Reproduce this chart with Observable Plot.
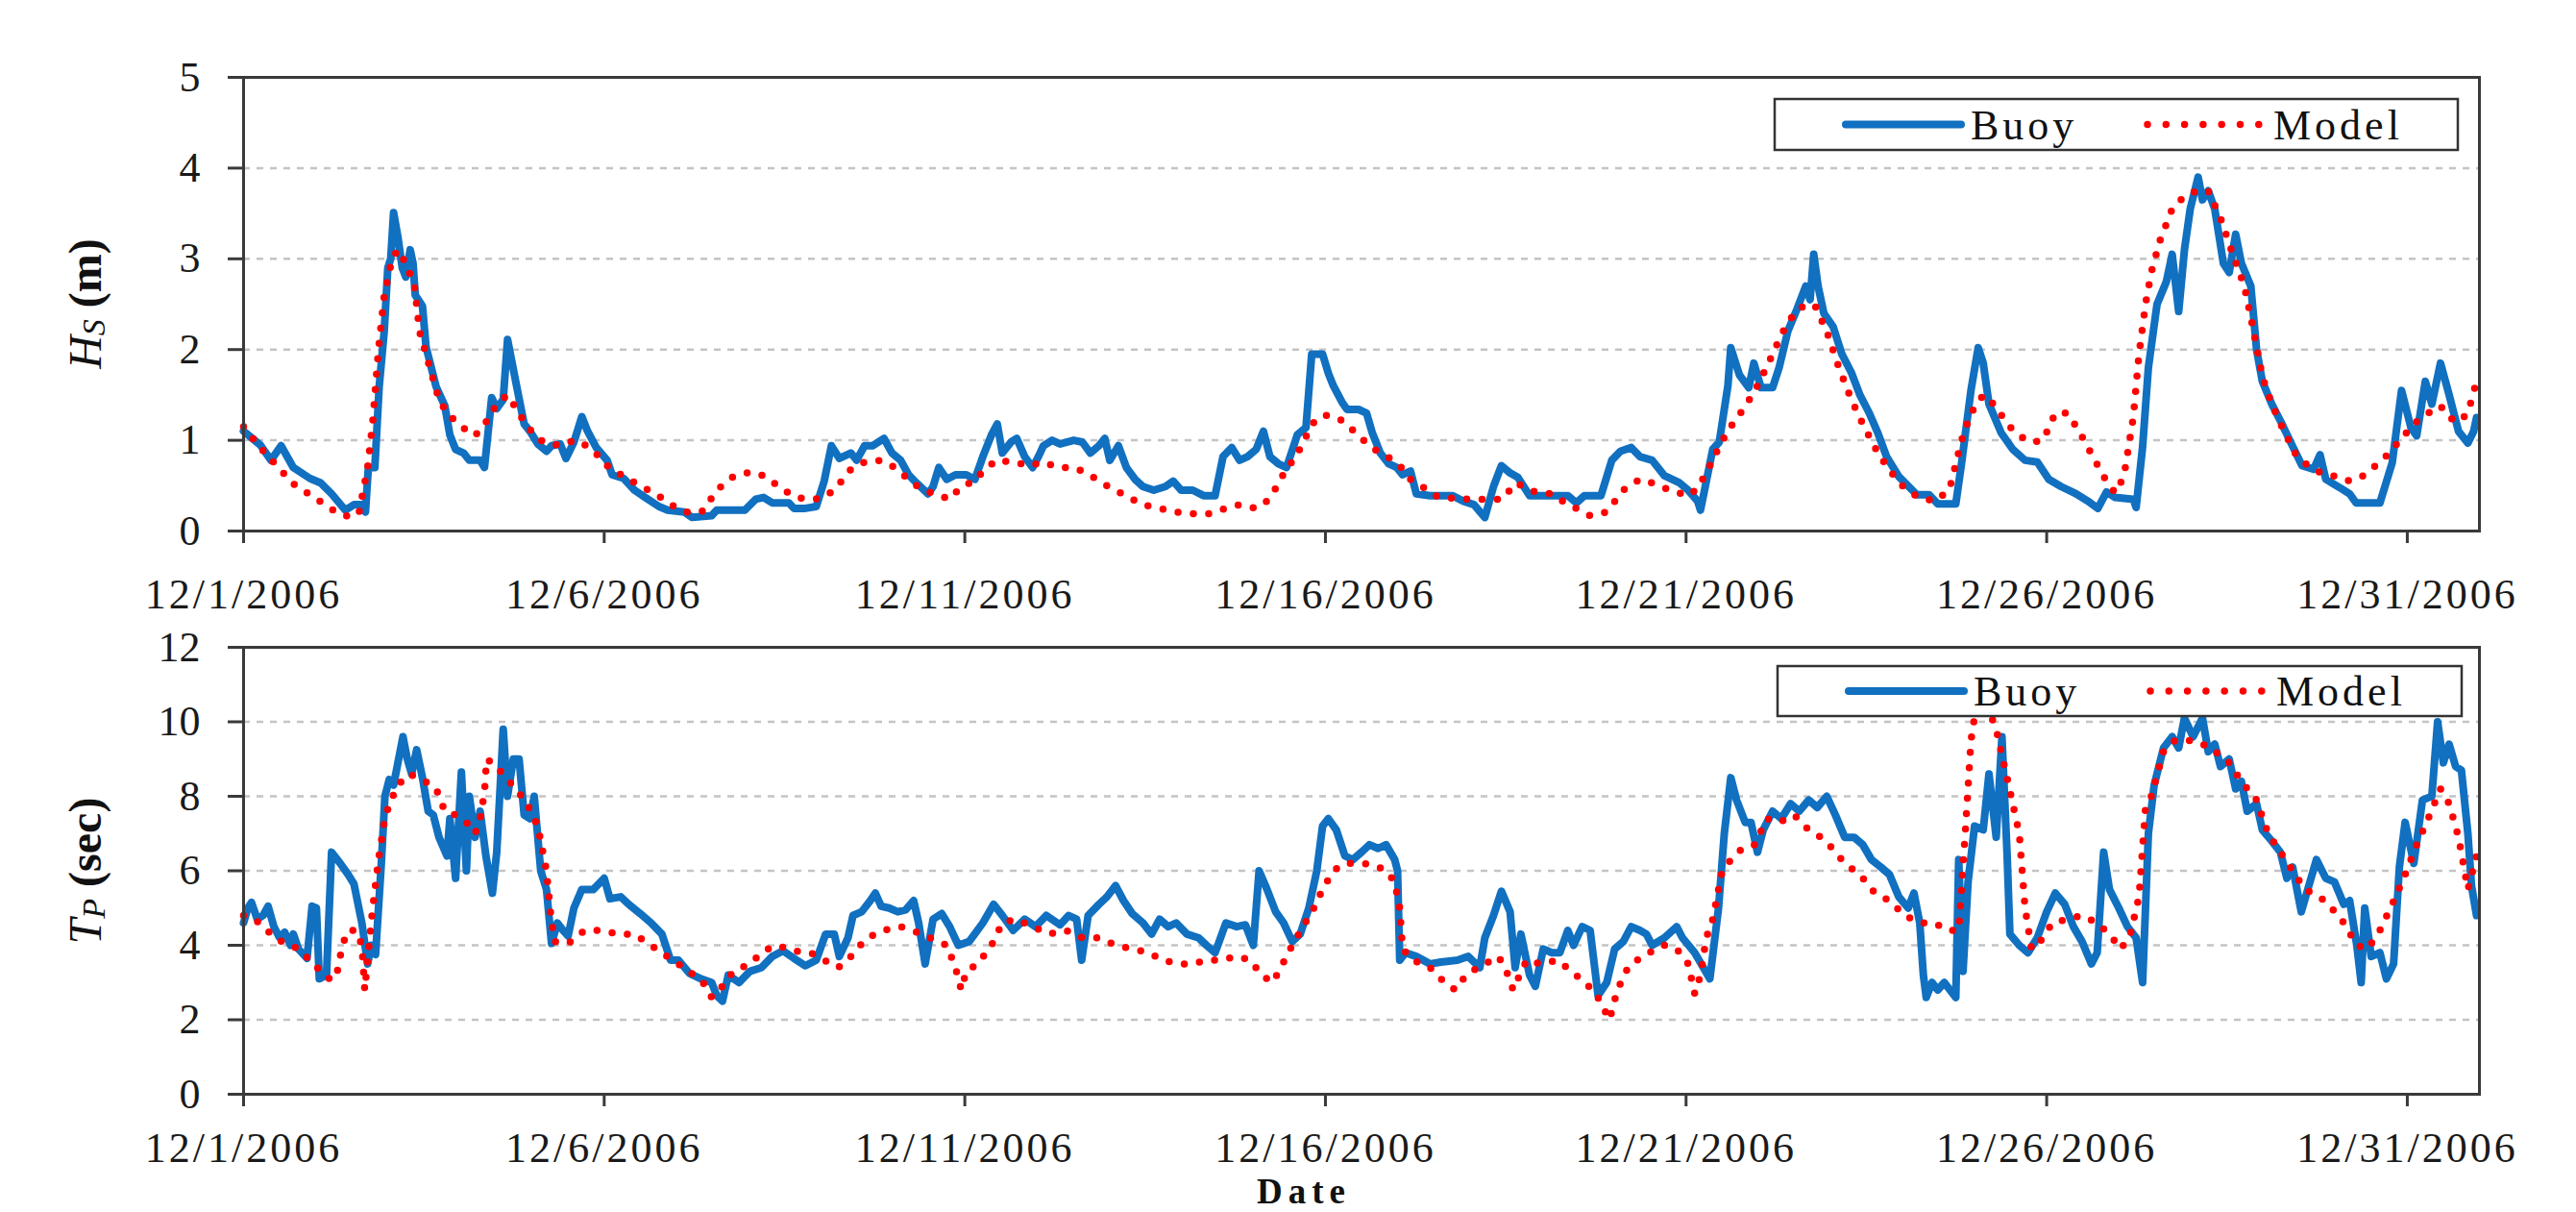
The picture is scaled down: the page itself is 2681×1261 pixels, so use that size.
<!DOCTYPE html>
<html><head><meta charset="utf-8">
<script src="https://cdn.jsdelivr.net/npm/d3@7"></script>
<script src="https://cdn.jsdelivr.net/npm/@observablehq/plot@0.6"></script>
<style>
html,body{margin:0;padding:0;background:#fff;}
#chart{width:2681px;height:1261px;overflow:hidden;position:relative;background:#fff;}
#chart svg{display:block;}
</style></head><body><div id="chart"></div>
<script>
// [day offset from 12/1/2006 00:00, value]
const buoyHs = [[0,1.10],[0.23,0.95],[0.38,0.78],[0.52,0.94],[0.69,0.70],[0.92,0.58],[1.07,0.53],[1.22,0.41],[1.41,0.23],[1.53,0.29],[1.64,0.29],[1.69,0.21],[1.73,0.70],[1.82,0.70],[1.88,1.59],[1.95,2.2],[2.00,2.9],[2.04,3.0],[2.08,3.51],[2.14,3.24],[2.20,2.90],[2.25,2.80],[2.31,3.10],[2.35,2.95],[2.38,2.60],[2.48,2.48],[2.53,2.03],[2.67,1.59],[2.79,1.38],[2.86,1.06],[2.94,0.90],[3.05,0.86],[3.13,0.78],[3.28,0.78],[3.34,0.70],[3.44,1.47],[3.51,1.35],[3.60,1.45],[3.66,2.11],[3.78,1.62],[3.89,1.18],[3.97,1.10],[4.08,0.96],[4.20,0.88],[4.27,0.94],[4.39,0.96],[4.47,0.80],[4.58,0.98],[4.69,1.26],[4.77,1.10],[4.89,0.92],[5.04,0.78],[5.11,0.62],[5.27,0.58],[5.42,0.45],[5.57,0.37],[5.76,0.27],[5.88,0.23],[6.11,0.21],[6.22,0.15],[6.49,0.17],[6.56,0.23],[6.95,0.23],[7.10,0.35],[7.21,0.37],[7.33,0.31],[7.56,0.31],[7.63,0.25],[7.79,0.25],[7.94,0.27],[8.05,0.55],[8.15,0.94],[8.26,0.80],[8.42,0.86],[8.50,0.78],[8.61,0.94],[8.72,0.94],[8.88,1.02],[8.99,0.86],[9.11,0.78],[9.22,0.62],[9.33,0.53],[9.49,0.41],[9.56,0.49],[9.64,0.70],[9.75,0.57],[9.87,0.62],[10.02,0.62],[10.14,0.57],[10.25,0.82],[10.37,1.06],[10.45,1.18],[10.52,0.86],[10.64,0.98],[10.72,1.02],[10.83,0.82],[10.94,0.70],[11.02,0.82],[11.09,0.94],[11.21,1.00],[11.32,0.96],[11.51,1.00],[11.63,0.98],[11.74,0.86],[11.86,0.94],[11.94,1.02],[12.01,0.78],[12.13,0.94],[12.24,0.70],[12.36,0.57],[12.47,0.49],[12.62,0.45],[12.78,0.49],[12.89,0.55],[13.00,0.45],[13.16,0.45],[13.31,0.39],[13.47,0.39],[13.58,0.82],[13.70,0.92],[13.81,0.78],[13.92,0.82],[14.04,0.90],[14.14,1.10],[14.23,0.82],[14.35,0.74],[14.46,0.70],[14.61,1.06],[14.73,1.14],[14.81,1.95],[14.88,1.95],[14.96,1.95],[15.04,1.74],[15.11,1.60],[15.23,1.42],[15.30,1.34],[15.46,1.34],[15.57,1.30],[15.65,1.08],[15.76,0.86],[15.88,0.74],[15.99,0.70],[16.07,0.62],[16.18,0.66],[16.26,0.41],[16.45,0.39],[16.76,0.39],[16.91,0.33],[17.06,0.29],[17.21,0.15],[17.33,0.49],[17.44,0.72],[17.56,0.64],[17.67,0.59],[17.83,0.39],[18.06,0.39],[18.36,0.39],[18.48,0.31],[18.59,0.39],[18.82,0.39],[18.97,0.78],[19.09,0.88],[19.24,0.92],[19.36,0.82],[19.53,0.78],[19.70,0.61],[19.91,0.53],[20.03,0.45],[20.16,0.33],[20.20,0.23],[20.37,0.90],[20.46,0.98],[20.58,1.60],[20.62,2.02],[20.74,1.72],[20.87,1.58],[20.94,1.85],[21.04,1.58],[21.20,1.58],[21.29,1.80],[21.41,2.2],[21.54,2.45],[21.66,2.70],[21.72,2.55],[21.77,3.05],[21.83,2.70],[21.91,2.40],[22.04,2.25],[22.16,1.95],[22.29,1.75],[22.41,1.50],[22.54,1.30],[22.66,1.08],[22.78,0.82],[22.95,0.60],[23.20,0.40],[23.37,0.40],[23.49,0.30],[23.74,0.30],[23.82,0.75],[23.95,1.55],[24.05,2.02],[24.12,1.85],[24.20,1.40],[24.37,1.08],[24.53,0.90],[24.70,0.78],[24.87,0.76],[25.03,0.57],[25.20,0.49],[25.41,0.41],[25.57,0.33],[25.71,0.25],[25.83,0.43],[25.95,0.37],[26.20,0.35],[26.24,0.26],[26.33,0.93],[26.41,1.80],[26.53,2.5],[26.66,2.75],[26.74,3.05],[26.83,2.42],[26.91,3.10],[26.99,3.55],[27.10,3.9],[27.16,3.65],[27.24,3.75],[27.33,3.55],[27.45,2.95],[27.53,2.85],[27.62,3.27],[27.70,2.95],[27.83,2.70],[27.91,2.0],[27.99,1.65],[28.12,1.40],[28.25,1.20],[28.37,1.00],[28.54,0.72],[28.70,0.68],[28.79,0.84],[28.87,0.57],[29.08,0.47],[29.20,0.41],[29.29,0.31],[29.62,0.31],[29.79,0.75],[29.92,1.55],[30.05,1.14],[30.13,1.05],[30.25,1.65],[30.34,1.40],[30.46,1.85],[30.58,1.50],[30.71,1.10],[30.84,0.97],[30.92,1.10],[30.96,1.25]];

const modelHs = [[0,1.15],[0.23,0.92],[0.46,0.72],[0.69,0.52],[0.92,0.40],[1.15,0.28],[1.30,0.20],[1.49,0.15],[1.60,0.20],[1.72,0.70],[1.79,1.2],[1.87,2.0],[1.95,2.6],[2.06,3.0],[2.14,3.1],[2.25,2.95],[2.37,2.7],[2.44,2.2],[2.60,1.75],[2.71,1.45],[2.82,1.3],[3.02,1.15],[3.21,1.05],[3.36,1.2],[3.51,1.4],[3.66,1.5],[3.78,1.35],[3.93,1.15],[4.12,1.0],[4.27,0.95],[4.43,0.95],[4.58,1.0],[4.73,0.95],[4.89,0.85],[5.04,0.72],[5.27,0.60],[5.50,0.50],[5.73,0.40],[5.95,0.28],[6.18,0.20],[6.37,0.22],[6.56,0.45],[6.79,0.60],[7.02,0.65],[7.25,0.60],[7.40,0.50],[7.63,0.38],[7.82,0.35],[8.02,0.36],[8.19,0.45],[8.42,0.68],[8.61,0.76],[8.84,0.78],[9.03,0.70],[9.22,0.57],[9.41,0.45],[9.60,0.41],[9.79,0.35],[9.95,0.49],[10.14,0.55],[10.25,0.66],[10.44,0.78],[10.67,0.76],[10.90,0.72],[11.09,0.76],[11.29,0.70],[11.52,0.70],[11.71,0.63],[11.90,0.53],[12.09,0.45],[12.28,0.37],[12.47,0.29],[12.70,0.25],[12.93,0.21],[13.16,0.19],[13.39,0.19],[13.62,0.25],[13.81,0.29],[14.04,0.25],[14.19,0.33],[14.31,0.47],[14.42,0.63],[14.61,0.85],[14.73,1.04],[14.84,1.20],[14.98,1.28],[15.19,1.24],[15.34,1.14],[15.53,1.00],[15.68,0.90],[15.88,0.81],[16.07,0.69],[16.18,0.57],[16.38,0.47],[16.57,0.37],[16.99,0.35],[17.45,0.35],[17.64,0.53],[17.91,0.43],[18.14,0.41],[18.29,0.33],[18.52,0.23],[18.67,0.17],[18.90,0.21],[19.13,0.45],[19.36,0.57],[19.53,0.53],[19.78,0.45],[20.03,0.39],[20.16,0.47],[20.33,0.72],[20.49,0.98],[20.66,1.20],[20.82,1.37],[20.99,1.60],[21.16,1.88],[21.33,2.18],[21.50,2.40],[21.66,2.50],[21.79,2.48],[21.95,2.2],[22.12,1.80],[22.29,1.45],[22.45,1.18],[22.62,0.92],[22.79,0.70],[23.00,0.50],[23.20,0.38],[23.45,0.33],[23.65,0.45],[23.82,1.00],[23.95,1.30],[24.12,1.50],[24.29,1.38],[24.45,1.18],[24.62,1.05],[24.79,0.98],[24.95,1.00],[25.12,1.30],[25.29,1.30],[25.45,1.10],[25.62,0.85],[25.79,0.60],[25.95,0.42],[26.07,0.60],[26.20,1.25],[26.28,1.95],[26.37,2.50],[26.45,2.85],[26.57,3.2],[26.74,3.55],[26.91,3.69],[27.08,3.75],[27.24,3.75],[27.41,3.45],[27.58,3.05],[27.74,2.7],[27.87,2.2],[27.99,1.70],[28.12,1.40],[28.29,1.10],[28.45,0.85],[28.62,0.72],[28.83,0.63],[29.03,0.60],[29.20,0.55],[29.37,0.60],[29.53,0.70],[29.74,0.85],[29.95,1.05],[30.12,1.20],[30.29,1.30],[30.46,1.38],[30.58,1.25],[30.71,1.20],[30.84,1.30],[30.96,1.65]];

const buoyTp = [[0,4.6],[0.06,5.0],[0.11,5.15],[0.19,4.7],[0.27,4.8],[0.34,5.05],[0.42,4.5],[0.50,4.2],[0.57,4.35],[0.65,4.0],[0.69,4.3],[0.76,3.9],[0.88,3.65],[0.95,5.05],[1.01,5.0],[1.05,3.1],[1.15,3.2],[1.22,6.5],[1.34,6.2],[1.45,5.9],[1.53,5.65],[1.64,4.6],[1.72,3.5],[1.77,4.0],[1.83,3.75],[1.91,6.2],[1.96,8.0],[2.02,8.45],[2.08,8.3],[2.14,8.9],[2.21,9.6],[2.27,9.0],[2.33,8.6],[2.40,9.25],[2.48,8.5],[2.56,7.6],[2.63,7.5],[2.71,6.9],[2.82,6.4],[2.86,7.4],[2.94,5.8],[3.02,8.65],[3.09,6.0],[3.13,8.0],[3.21,6.9],[3.28,7.6],[3.36,6.4],[3.45,5.4],[3.51,6.5],[3.60,9.8],[3.66,8.0],[3.74,9.0],[3.82,9.0],[3.89,7.5],[3.97,7.4],[4.03,8.0],[4.12,6.0],[4.20,5.5],[4.27,4.05],[4.35,4.6],[4.43,4.4],[4.50,4.25],[4.58,5.0],[4.69,5.5],[4.85,5.5],[5.00,5.8],[5.08,5.25],[5.23,5.3],[5.34,5.1],[5.50,4.85],[5.65,4.6],[5.80,4.3],[5.92,3.6],[6.03,3.6],[6.18,3.25],[6.34,3.1],[6.49,3.0],[6.56,2.65],[6.64,2.5],[6.72,3.2],[6.87,3.0],[7.02,3.3],[7.18,3.4],[7.33,3.7],[7.48,3.85],[7.63,3.65],[7.79,3.45],[7.94,3.6],[8.07,4.3],[8.19,4.3],[8.26,3.7],[8.38,4.2],[8.45,4.8],[8.57,4.9],[8.69,5.2],[8.76,5.4],[8.84,5.05],[8.95,5.0],[9.07,4.9],[9.18,4.95],[9.29,5.2],[9.36,4.6],[9.45,3.5],[9.56,4.7],[9.68,4.85],[9.79,4.5],[9.91,4.0],[10.06,4.1],[10.25,4.6],[10.40,5.1],[10.52,4.8],[10.67,4.4],[10.83,4.7],[10.98,4.5],[11.13,4.8],[11.32,4.55],[11.44,4.8],[11.55,4.7],[11.62,3.6],[11.71,4.8],[11.86,5.1],[11.97,5.3],[12.09,5.6],[12.20,5.2],[12.32,4.85],[12.47,4.6],[12.59,4.3],[12.70,4.7],[12.82,4.5],[12.93,4.6],[13.08,4.3],[13.24,4.2],[13.35,4.0],[13.47,3.8],[13.62,4.6],[13.77,4.5],[13.89,4.55],[14.00,4.0],[14.08,6.0],[14.19,5.5],[14.31,4.9],[14.42,4.6],[14.54,4.1],[14.65,4.3],[14.77,5.0],[14.88,6.0],[14.96,7.2],[15.04,7.4],[15.15,7.1],[15.27,6.4],[15.38,6.3],[15.50,6.5],[15.61,6.7],[15.73,6.6],[15.84,6.7],[15.96,6.3],[16.00,6.0],[16.03,3.6],[16.11,3.8],[16.26,3.7],[16.45,3.5],[16.60,3.55],[16.83,3.6],[16.98,3.7],[17.14,3.4],[17.21,4.2],[17.33,4.8],[17.44,5.45],[17.56,4.9],[17.63,3.4],[17.71,4.3],[17.83,3.2],[17.91,2.9],[18.02,3.9],[18.14,3.8],[18.25,3.8],[18.36,4.4],[18.44,4.0],[18.56,4.5],[18.67,4.4],[18.78,2.65],[18.90,3.0],[19.01,3.9],[19.13,4.1],[19.24,4.5],[19.36,4.4],[19.45,4.3],[19.53,4.0],[19.70,4.2],[19.87,4.5],[19.95,4.2],[20.12,3.8],[20.24,3.4],[20.33,3.1],[20.45,5.0],[20.53,7.0],[20.62,8.5],[20.70,7.9],[20.82,7.3],[20.90,7.3],[20.99,6.5],[21.07,7.1],[21.20,7.6],[21.32,7.4],[21.45,7.8],[21.57,7.6],[21.70,7.9],[21.82,7.7],[21.95,8.0],[22.07,7.5],[22.20,6.9],[22.33,6.9],[22.45,6.7],[22.57,6.3],[22.70,6.1],[22.82,5.9],[22.95,5.3],[23.08,5.0],[23.16,5.4],[23.24,4.6],[23.29,3.2],[23.33,2.6],[23.41,3.0],[23.49,2.8],[23.58,3.0],[23.66,2.8],[23.74,2.6],[23.78,6.3],[23.84,3.3],[23.91,5.7],[24.00,7.2],[24.12,7.1],[24.20,8.6],[24.30,6.9],[24.38,9.6],[24.45,6.5],[24.49,4.3],[24.62,4.0],[24.74,3.8],[24.87,4.2],[25.00,4.9],[25.12,5.4],[25.25,5.1],[25.37,4.5],[25.49,4.1],[25.62,3.5],[25.70,3.8],[25.79,6.5],[25.87,5.5],[26.00,5.0],[26.12,4.5],[26.24,4.2],[26.33,3.0],[26.41,7.0],[26.49,8.3],[26.62,9.3],[26.74,9.6],[26.83,9.3],[26.91,10.1],[27.03,9.6],[27.16,10.1],[27.24,9.2],[27.33,9.4],[27.41,8.8],[27.53,9.0],[27.62,8.2],[27.70,8.4],[27.78,7.6],[27.91,7.8],[27.99,7.1],[28.12,6.8],[28.24,6.5],[28.33,5.8],[28.41,6.1],[28.53,4.9],[28.62,5.5],[28.74,6.3],[28.87,5.8],[28.99,5.7],[29.12,5.1],[29.20,5.2],[29.30,4.0],[29.36,3.0],[29.41,5.0],[29.50,3.7],[29.62,3.8],[29.71,3.1],[29.81,3.5],[29.89,6.1],[29.97,7.3],[30.09,6.2],[30.21,7.9],[30.34,8.0],[30.42,10.0],[30.50,8.9],[30.58,9.4],[30.67,8.8],[30.75,8.7],[30.84,7.0],[30.89,5.6],[30.96,4.8]];

const modelTp = [[0,4.8],[0.23,4.6],[0.38,4.3],[0.53,4.1],[0.76,3.9],[0.92,3.6],[1.07,3.3],[1.22,3.05],[1.30,3.3],[1.37,4.0],[1.45,4.4],[1.56,4.4],[1.64,4.0],[1.68,2.8],[1.72,3.6],[1.79,5.0],[1.87,6.3],[1.95,7.3],[2.02,7.8],[2.14,8.3],[2.29,8.6],[2.48,8.45],[2.67,8.2],[2.79,7.6],[2.94,7.5],[3.09,7.3],[3.21,7.0],[3.28,7.4],[3.34,8.1],[3.37,9.0],[3.51,8.8],[3.63,8.5],[3.78,8.2],[3.93,7.8],[4.08,7.2],[4.20,6.0],[4.26,4.8],[4.31,4.1],[4.50,4.05],[4.73,4.4],[4.96,4.4],[5.19,4.3],[5.42,4.3],[5.61,4.05],[5.80,3.8],[5.95,3.6],[6.18,3.3],[6.37,3.0],[6.49,2.6],[6.64,2.9],[6.79,3.3],[7.02,3.5],[7.21,3.85],[7.40,4.0],[7.63,3.85],[7.86,3.8],[8.05,3.6],[8.24,3.4],[8.38,3.6],[8.50,3.9],[8.65,4.2],[8.88,4.4],[9.11,4.5],[9.34,4.35],[9.52,4.2],[9.75,4.0],[9.87,3.4],[9.95,2.8],[10.02,3.3],[10.18,3.5],[10.37,4.0],[10.52,4.6],[10.71,4.7],[10.94,4.5],[11.17,4.3],[11.40,4.4],[11.63,4.2],[11.86,4.2],[12.09,4.0],[12.32,3.9],[12.55,3.8],[12.74,3.6],[12.97,3.5],[13.16,3.5],[13.35,3.6],[13.54,3.6],[13.77,3.7],[13.96,3.6],[14.11,3.2],[14.27,3.0],[14.38,3.4],[14.54,4.0],[14.69,4.5],[14.84,5.0],[14.96,5.5],[15.11,6.0],[15.27,6.2],[15.50,6.2],[15.69,6.15],[15.84,6.0],[15.96,5.7],[16.03,5.0],[16.07,3.9],[16.22,3.6],[16.45,3.4],[16.60,3.1],[16.80,2.8],[16.95,3.2],[17.11,3.4],[17.21,3.5],[17.40,3.7],[17.56,3.1],[17.60,2.8],[17.67,3.1],[17.79,3.6],[17.99,3.5],[18.22,3.6],[18.41,3.3],[18.60,3.0],[18.75,2.7],[18.83,2.4],[18.94,2.0],[19.02,2.6],[19.13,3.2],[19.24,3.5],[19.49,3.8],[19.70,4.0],[19.87,3.9],[20.03,3.5],[20.12,2.7],[20.20,3.2],[20.28,4.2],[20.37,4.7],[20.49,5.9],[20.62,6.3],[20.78,6.6],[20.95,6.7],[21.12,7.4],[21.29,7.3],[21.50,7.5],[21.70,7.1],[21.87,6.9],[22.03,6.6],[22.20,6.2],[22.41,5.9],[22.62,5.4],[22.82,5.2],[23.03,4.8],[23.24,4.6],[23.45,4.6],[23.62,4.4],[23.78,4.4],[23.87,7.0],[23.95,9.5],[24.03,10.5],[24.16,10.5],[24.30,9.8],[24.45,8.5],[24.62,7.0],[24.70,5.0],[24.79,3.9],[24.91,4.1],[25.08,4.6],[25.29,4.7],[25.49,4.8],[25.70,4.6],[25.87,4.3],[26.03,3.9],[26.16,4.3],[26.28,5.3],[26.37,7.7],[26.45,8.0],[26.62,9.2],[26.78,9.5],[27.03,9.5],[27.28,9.3],[27.53,8.9],[27.70,8.4],[27.91,7.9],[28.07,7.0],[28.24,6.5],[28.41,6.0],[28.58,5.5],[28.79,5.3],[28.95,5.0],[29.12,4.6],[29.30,4.0],[29.45,3.9],[29.62,4.4],[29.79,5.1],[29.95,5.8],[30.13,6.7],[30.29,7.4],[30.46,8.2],[30.58,7.8],[30.71,6.9],[30.84,5.5],[30.96,6.4]];

const hsTicks = [0, 1, 2, 3, 4, 5];
const hsGrid = [1, 2, 3, 4];
const tpTicks = [0, 2, 4, 6, 8, 10, 12];
const tpGrid = [2, 4, 6, 8, 10];
const tickDays = [1, 6, 11, 16, 21, 26, 31];
const seriesNames = ["Buoy", "Model"];

const start = Date.UTC(2006, 11, 1);
const end = Date.UTC(2007, 0, 1);
const toRows = arr => arr.map(([d, v]) => ({date: new Date(start + d * 864e5), value: v}));
const dateTicks = tickDays.map(d => new Date(Date.UTC(2006, 11, d)));
const fmt = d => `${d.getUTCMonth() + 1}/${d.getUTCDate()}/${d.getUTCFullYear()}`;

const BLUE = "#1170c0", RED = "#ff0000", AXIS = "#3a3a3a";
const FONT = "'Liberation Serif', 'Times New Roman', serif";

function panel({buoy, model, yDomain, yTicks, grid, height, marginTop, marginBottom, xPad}) {
  return Plot.plot({
    width: 2681, height, marginLeft: 253, marginRight: 101, marginTop, marginBottom,
    style: {fontFamily: FONT, fontSize: "44px", color: "#1a1a1a", background: "white", overflow: "visible"},
    x: {type: "utc", domain: [new Date(start), new Date(end)]},
    y: {domain: yDomain},
    marks: [
      Plot.gridY(grid, {stroke: "#c4c4c4", strokeOpacity: 1, strokeWidth: 2.5, strokeDasharray: "7,7"}),
      Plot.line(toRows(buoy), {x: "date", y: "value", stroke: BLUE, strokeWidth: 8, strokeLinejoin: "round"}),
      Plot.line(toRows(model), {x: "date", y: "value", stroke: RED, strokeWidth: 7.5, strokeDasharray: "0 16", strokeLinecap: "round"}),
      Plot.frame({stroke: AXIS, strokeWidth: 3}),
      Plot.axisY(yTicks, {tickSize: 16, tickPadding: 29, label: null, stroke: AXIS, strokeWidth: 3, tickFormat: d => String(d)}),
      Plot.axisX(dateTicks, {tickSize: 13, tickPadding: xPad, label: null, stroke: AXIS, strokeWidth: 3, tickFormat: fmt})
    ]
  });
}

function legend(svg, bx0, by0, bx1, by1) {
  const cy = (by0 + by1) / 2;
  const g = d3.select(svg).append("g")
    .style("font-family", FONT).style("font-size", "44px").attr("fill", "#111").attr("text-anchor", "start");
  g.append("rect").attr("x", bx0).attr("y", by0).attr("width", bx1 - bx0).attr("height", by1 - by0)
    .attr("fill", "white").attr("stroke", "#333").attr("stroke-width", 2.5);
  g.append("line").attr("x1", bx0 + 74).attr("x2", bx0 + 194).attr("y1", cy).attr("y2", cy)
    .attr("stroke", BLUE).attr("stroke-width", 8).attr("stroke-linecap", "round");
  g.append("text").attr("x", bx0 + 204).attr("y", cy + 15).attr("text-anchor", "start")
    .style("letter-spacing", "4px").text(seriesNames[0]);
  g.append("line").attr("x1", bx0 + 388).attr("x2", bx0 + 504).attr("y1", cy).attr("y2", cy)
    .attr("stroke", RED).attr("stroke-width", 7.5).attr("stroke-linecap", "round").attr("stroke-dasharray", "0 19.3");
  g.append("text").attr("x", bx0 + 519).attr("y", cy + 15).attr("text-anchor", "start")
    .style("letter-spacing", "4px").text(seriesNames[1]);
}

function yTitle(svg, cy, main, sub, unit) {
  const t = d3.select(svg).append("text")
    .attr("transform", `translate(88,${cy}) rotate(-90)`)
    .attr("text-anchor", "middle").attr("dominant-baseline", "central")
    .style("font-family", FONT).style("font-size", "48px").attr("fill", "#111");
  t.append("tspan").style("font-style", "italic").text(main);
  t.append("tspan").style("font-style", "italic").style("font-size", "34px").attr("dy", 9).text(sub);
  t.append("tspan").attr("dy", -9).style("font-weight", "bold").text("\u00a0" + unit);
}

function stretchX(svg) {
  d3.select(svg).selectAll('g[aria-label="x-axis tick label"] text').style("letter-spacing", "3px");
}

const chart = document.getElementById("chart");

const p1 = panel({buoy: buoyHs, model: modelHs, yDomain: [0, 5], yTicks: hsTicks, grid: hsGrid, height: 640, marginTop: 80, marginBottom: 88, xPad: 36});
stretchX(p1);
legend(p1, 1847, 103, 2558, 156);
yTitle(p1, 316, "H", "S", "(m)");
chart.appendChild(p1);

const p2 = panel({buoy: buoyTp, model: modelTp, yDomain: [0, 12], yTicks: tpTicks, grid: tpGrid, height: 621, marginTop: 33, marginBottom: 123, xPad: 26});
stretchX(p2);
legend(p2, 1850, 53, 2562, 105);
yTitle(p2, 266, "T", "P", "(sec)");
d3.select(p2).append("text").attr("x", 1357).attr("y", 612).attr("text-anchor", "middle")
  .style("font-family", FONT).style("font-size", "37px").style("font-weight", "bold").style("letter-spacing", "6px")
  .attr("fill", "#111").text("Date");
chart.appendChild(p2);
</script></body></html>
